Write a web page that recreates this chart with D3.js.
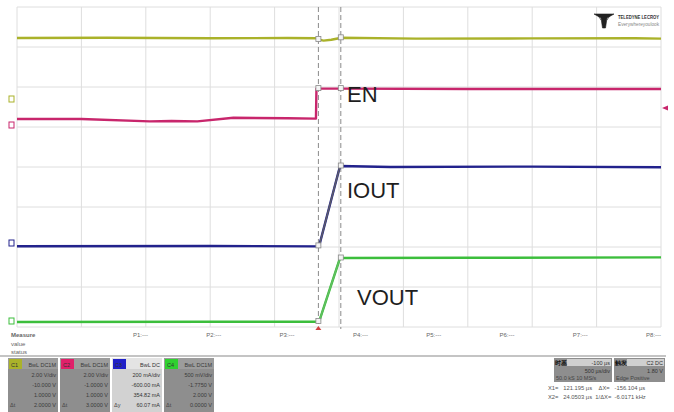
<!DOCTYPE html>
<html>
<head>
<meta charset="utf-8">
<script src="https://cdn.jsdelivr.net/npm/d3@7"></script>
<style>
  body { margin: 0; background: #fff; }
  svg { display: block; font-family: "Liberation Sans", Arial, sans-serif; }
</style>
</head>
<body>
<div id="scope"></div>
<script>
// time in µs (500 µs/div), amplitude in screen divisions (0 = centre)
var yellowTrace = [[-2500, 3.225], [-1800, 3.23], [-1000, 3.22], [-400, 3.225], [-175, 3.22],
    [-160, 3.19], [-120, 3.16], [-60, 3.18], [0, 3.22], [15, 3.23], [600, 3.21], [1500, 3.215], [2300, 3.22], [2500, 3.21]];
var magentaTrace = [[-2500, 1.2], [-2000, 1.2], [-1470, 1.14], [-1300, 1.15], [-1100, 1.14], [-820, 1.23],
    [-400, 1.22], [-179, 1.21], [-175, 1.96], [0, 1.96], [1000, 1.95], [2500, 1.95]];
var blueTrace = [[-2500, -1.98], [-1000, -1.975], [-155, -1.985], [8, 0.025], [400, 0.0], [1500, 0.01], [2500, -0.005]];
var greenTrace = [[-2500, -3.875], [-1000, -3.87], [-155, -3.87], [8, -2.275], [1000, -2.27], [2500, -2.26]];

var cursorTimes = [-160, 14];
var labelNames = ['EN', 'IOUT', 'VOUT'];
var labelAnchors = [[63, 1.625], [62, -0.775], [140, -3.45]];

var measureNames = ['P1', 'P2', 'P3', 'P4', 'P5', 'P6', 'P7', 'P8'];
var channelNames = ['C1', 'C2', 'C3', 'C4'];
var channelRows = [
    ['BwL DC1M', '2.00 V/div', '-10.000 V', '1.0000 V', '2.0000 V'],
    ['BwL DC1M', '2.00 V/div', '-1.0000 V', '1.0000 V', '3.0000 V'],
    ['BwL DC', '200 mA/div', '-600.00 mA', '354.82 mA', '60.07 mA'],
    ['BwL DC1M', '500 mV/div', '-1.7750 V', '2.000 V', '0.0000 V']
];
var cursorReadout = ['X1=   121.195 µs    ΔX=   -156.104 µs', 'X2=   24.0503 µs  1/ΔX=  -6.0171 kHz'];

var W = 674, H = 412,
    plot = { left: 17, right: 661, top: 7, bottom: 327 },
    colors = { yellow: '#aab22a', magenta: '#c8266c', blue: '#22228c', green: '#3cbe3c' };

var svg = d3.select('#scope')
    .append('svg')
    .attr('width', W)
    .attr('height', H);

svg.append('rect').attr('width', W).attr('height', H).attr('fill', '#fff');

var x = d3.scaleLinear().domain([-2500, 2500]).range([plot.left, plot.right]);
var y = d3.scaleLinear().domain([-4, 4]).range([plot.bottom, plot.top]);

// grid
var grid = svg.append('g');
grid.selectAll('line.v')
    .data(d3.range(-2500, 2501, 500))
    .join('line')
    .attr('x1', d => x(d)).attr('x2', d => x(d))
    .attr('y1', plot.top).attr('y2', plot.bottom)
    .attr('stroke', '#dedede').attr('stroke-width', 1);
grid.selectAll('line.h')
    .data(d3.range(-4, 4.01, 1))
    .join('line')
    .attr('x1', plot.left).attr('x2', plot.right)
    .attr('y1', d => y(d)).attr('y2', d => y(d))
    .attr('stroke', '#dedede').attr('stroke-width', 1);

// cursors
svg.selectAll('line.cursor')
    .data(cursorTimes)
    .join('line')
    .attr('x1', d => x(d)).attr('x2', d => x(d))
    .attr('y1', plot.top).attr('y2', plot.bottom + 2)
    .attr('stroke', '#8a8a8a').attr('stroke-width', 1)
    .attr('stroke-dasharray', '5,3');

var line = d3.line().x(d => x(d[0])).y(d => y(d[1]));

[
    [yellowTrace, colors.yellow],
    [magentaTrace, colors.magenta],
    [blueTrace, colors.blue],
    [greenTrace, colors.green]
].forEach(([data, c]) => {
    svg.append('path')
        .datum(data)
        .attr('d', line)
        .attr('fill', 'none')
        .attr('stroke', c)
        .attr('stroke-width', 2.4)
        .attr('stroke-linejoin', 'round');
});

// fast edges drawn dimmer
svg.append('path').datum(blueTrace.slice(2, 4)).attr('d', line)
    .attr('stroke', '#5a5a6a').attr('stroke-width', 1.6).attr('fill', 'none');
svg.append('path').datum(greenTrace.slice(2, 4)).attr('d', line)
    .attr('stroke', '#5fbf5f').attr('stroke-width', 1.6).attr('fill', 'none');

// cursor markers on traces
function valueAt(data, t){
    var i = d3.bisector(d => d[0]).left(data, t);
    if (i <= 0) return data[0][1];
    if (i >= data.length) return data[data.length - 1][1];
    var a = data[i - 1], b = data[i];
    return a[1] + (b[1] - a[1]) * (t - a[0]) / (b[0] - a[0]);
}
cursorTimes.forEach(t => {
    [yellowTrace, magentaTrace, blueTrace, greenTrace].forEach(data => {
        var v = valueAt(data, t + (t < 0 ? 6 : 0));
        svg.append('rect')
            .attr('x', x(t) - 2.5).attr('y', y(v) - 3)
            .attr('width', 5).attr('height', 5)
            .attr('fill', '#f4f4f4').attr('stroke', '#888').attr('stroke-width', 0.8);
    });
});

// trace labels
svg.selectAll('text.lbl')
    .data(labelNames)
    .join('text')
    .attr('x', (d, i) => x(labelAnchors[i][0]))
    .attr('y', (d, i) => y(labelAnchors[i][1]))
    .attr('font-size', 22)
    .attr('fill', '#1e1e1e')
    .text(d => d);

// channel ground markers on the left, trigger markers
[[colors.yellow, 99], [colors.magenta, 125], [colors.blue, 243], [colors.green, 321]].forEach(([c, py]) => {
    svg.append('rect').attr('x', 9).attr('y', py - 3).attr('width', 5).attr('height', 6)
        .attr('fill', 'none').attr('stroke', c).attr('stroke-width', 1);
});
svg.append('path').attr('d', 'M662,108 l6,-2.5 v5 z').attr('fill', colors.magenta);
svg.append('path').attr('d', 'M' + x(cursorTimes[0]) + ',326 l-3,4 h6 z').attr('fill', '#d04040');

// logo
var logo = svg.append('g');
logo.append('path')
    .attr('d', 'M594,14 h20 l-7,4 l-1.5,10 h-3 l-1.5,-10 z M597,14 l4,6 M611,14 l-4,6')
    .attr('fill', '#222').attr('stroke', '#222').attr('stroke-width', 0.6);
logo.append('text').attr('x', 618).attr('y', 19)
    .attr('font-size', 5.4).attr('font-weight', 'bold').attr('fill', '#333')
    .attr('textLength', 41).attr('lengthAdjust', 'spacingAndGlyphs').text('TELEDYNE LECROY');
logo.append('text').attr('x', 618).attr('y', 26)
    .attr('font-size', 4.6).attr('fill', '#888')
    .attr('textLength', 41).attr('lengthAdjust', 'spacingAndGlyphs').text('Everywhereyoulook');

// measurement row
var meas = svg.append('g').attr('font-size', 6).attr('fill', '#666');
['Measure', 'value', 'status'].forEach((s, i) => {
    meas.append('text').attr('x', 11).attr('y', 337 + i * 8.5).text(s)
        .attr('font-weight', i ? 'normal' : 'bold');
});
meas.selectAll('text.p')
    .data(measureNames)
    .join('text')
    .attr('x', (d, i) => 133 + i * 73.3)
    .attr('y', 337)
    .text(d => d + ':---');

svg.append('line').attr('x1', 0).attr('x2', 666).attr('y1', 356).attr('y2', 356)
    .attr('stroke', '#c4c4c4').attr('stroke-width', 2);

// channel descriptor boxes
var chColors = [colors.yellow, '#e0206a', '#2020c8', '#30d030'];
channelNames.forEach((name, i) => {
    var bx = 8 + i * 52, g = svg.append('g').attr('font-size', 5.5);
    var light = i === 2;
    g.append('rect').attr('x', bx).attr('y', 358).attr('width', 50).attr('height', 54)
        .attr('fill', light ? '#d2d2d2' : '#8e8e8e');
    g.append('rect').attr('x', bx).attr('y', 358).attr('width', 50).attr('height', 11)
        .attr('fill', light ? '#e4e4e4' : '#9c9c9c');
    g.append('rect').attr('x', bx + 1).attr('y', 359).attr('width', 13).attr('height', 10)
        .attr('fill', chColors[i]);
    g.append('text').attr('x', bx + 3).attr('y', 367).attr('fill', '#333').text(name);
    channelRows[i].forEach((r, j) => {
        g.append('text').attr('x', bx + 48).attr('y', 367 + j * 10)
            .attr('text-anchor', 'end').attr('fill', light ? '#333' : '#3a3a3a').text(r);
    });
    g.append('text').attr('x', bx + 2).attr('y', 407).attr('fill', '#444').text(i === 2 ? 'Δy' : 'Δt');
});

// timebase / trigger boxes
var tb = svg.append('g').attr('font-size', 5.5);
[[554, 58, '时基', '-100 µs', '500 µs/div', '50.0 kS 10 MS/s'],
 [614, 51, '触发', 'C2 DC', '1.80 V', 'Edge Positive']].forEach(b => {
    tb.append('rect').attr('x', b[0]).attr('y', 358).attr('width', b[1]).attr('height', 24).attr('fill', '#8e8e8e');
    tb.append('rect').attr('x', b[0] + 13).attr('y', 359).attr('width', b[1] - 14).attr('height', 7).attr('fill', '#cfcfcf');
    tb.append('text').attr('x', b[0] + 1).attr('y', 365).attr('fill', '#111').attr('font-weight', 'bold').text(b[2]);
    tb.append('text').attr('x', b[0] + b[1] - 2).attr('y', 365).attr('text-anchor', 'end').attr('fill', '#333').text(b[3]);
    tb.append('text').attr('x', b[0] + b[1] - 2).attr('y', 373).attr('text-anchor', 'end').attr('fill', '#333').text(b[4]);
    tb.append('text').attr('x', b[0] + 2).attr('y', 380).attr('fill', '#444').text(b[5]);
});
cursorReadout.forEach((s, i) => {
    svg.append('text').attr('x', 548).attr('y', 390 + i * 9)
        .attr('font-size', 5.8).attr('fill', '#555').attr('xml:space', 'preserve')
        .style('white-space', 'pre').text(s);
});
</script>
</body>
</html>
